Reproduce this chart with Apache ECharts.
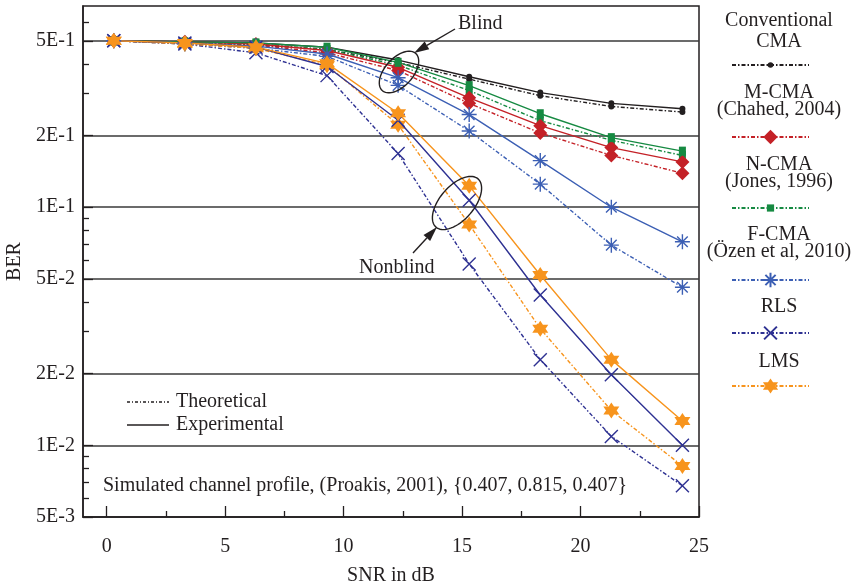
<!DOCTYPE html>
<html><head><meta charset="utf-8">
<script src="https://cdn.jsdelivr.net/npm/echarts@6/dist/echarts.min.js"></script>
<style>html,body{margin:0;padding:0;background:#fff}#c{width:861px;height:584px}</style>
</head><body><div id="c"></div>
<script>
// ---- data ----
const snr = [0.3, 3.3, 6.3, 9.3, 12.3, 15.3, 18.3, 21.3, 24.3];

const cmaTheo  = [0.50, 0.49, 0.48, 0.46, 0.405, 0.345, 0.294, 0.265, 0.251];
const cmaExp   = [0.50, 0.495, 0.49, 0.47, 0.415, 0.353, 0.303, 0.273, 0.259];
const mcmaTheo = [0.50, 0.49, 0.48, 0.445, 0.375, 0.273, 0.205, 0.165, 0.139];
const mcmaExp  = [0.50, 0.495, 0.485, 0.455, 0.387, 0.288, 0.220, 0.178, 0.155];
const ncmaTheo = [0.50, 0.49, 0.485, 0.46, 0.395, 0.309, 0.231, 0.191, 0.165];
const ncmaExp  = [0.50, 0.495, 0.49, 0.47, 0.406, 0.324, 0.247, 0.196, 0.172];
const fcmaTheo = [0.50, 0.485, 0.465, 0.43, 0.325, 0.209, 0.125, 0.0693, 0.0461];
const fcmaExp  = [0.50, 0.49, 0.475, 0.44, 0.350, 0.245, 0.157, 0.100, 0.0716];
const rlsTheo  = [0.50, 0.485, 0.445, 0.357, 0.168, 0.0578, 0.0229, 0.0109, 0.00676];
const rlsExp   = [0.50, 0.49, 0.47, 0.39, 0.232, 0.107, 0.0428, 0.0198, 0.0100];
const lmsTheo  = [0.50, 0.485, 0.465, 0.395, 0.222, 0.0847, 0.0309, 0.0140, 0.00819];
const lmsExp   = [0.50, 0.49, 0.47, 0.402, 0.248, 0.123, 0.0519, 0.0229, 0.01265];

const xTickValues = [0, 5, 10, 15, 20, 25];
const xMinorTicks = [2.5, 7.5, 12.5, 17.5, 22.5];
const yTickValues = [0.005, 0.01, 0.02, 0.05, 0.1, 0.2, 0.5];
const yTickLabels = ['5E-3', '1E-2', '2E-2', '5E-2', '1E-1', '2E-1', '5E-1'];
const yMinorTicks = [0.006, 0.007, 0.008, 0.009, 0.03, 0.04, 0.06, 0.07, 0.08, 0.09, 0.3, 0.4, 0.6];

const legendTitles = [
  ['Conventional', 'CMA'],
  ['M-CMA', '(Chahed, 2004)'],
  ['N-CMA', '(Jones, 1996)'],
  ['F-CMA', '(Özen et al, 2010)'],
  ['RLS'],
  ['LMS']
];
const methodNames = ['Conventional CMA', 'M-CMA', 'N-CMA', 'F-CMA', 'RLS', 'LMS'];

// ---- styles ----
const FONT = '"Liberation Serif", "Times New Roman", serif';
const TXT = '#231f20';
const ASTER = 'path://M0,-10L0,10M-10,0L10,0M-7.1,-7.1L7.1,7.1M-7.1,7.1L7.1,-7.1';
const CROSS = 'path://M-10,-10L10,10M-10,10L10,-10';
const STAR6 = 'path://M0,-10L8.66,5L-8.66,5ZM0,10L-8.66,-5L8.66,-5Z';
const DOT = [4, 2, 1.5, 2];

const methods = [
  {theo: cmaTheo,  exp: cmaExp,  color: '#231f20', symbol: 'circle',  size: 6,      legendH: 7,  stroke: false},
  {theo: mcmaTheo, exp: mcmaExp, color: '#c42127', symbol: 'diamond', size: 14,     legendH: 18, stroke: false},
  {theo: ncmaTheo, exp: ncmaExp, color: '#168a42', symbol: 'rect',    size: [7, 9], legendH: 9,  stroke: false},
  {theo: fcmaTheo, exp: fcmaExp, color: '#3c5fb4', symbol: ASTER,     size: 15,     legendH: 18, stroke: true},
  {theo: rlsTheo,  exp: rlsExp,  color: '#2e3192', symbol: CROSS,     size: 13,     legendH: 16, stroke: true},
  {theo: lmsTheo,  exp: lmsExp,  color: '#f7941d', symbol: STAR6,     size: 16,     legendH: 19, stroke: false}
];

const series = [];
methods.forEach((m, i) => {
  const itemStyle = m.stroke
    ? {color: m.color, borderColor: m.color, borderWidth: 1.4}
    : {color: m.color, borderWidth: 0};
  series.push({
    name: methodNames[i], type: 'line', xAxisIndex: 0, yAxisIndex: 0,
    data: snr.map((x, k) => [x, m.theo[k]]),
    symbol: m.symbol, symbolSize: m.size, showSymbol: true,
    lineStyle: {color: m.color, width: 1.4, type: DOT},
    itemStyle: itemStyle, z: 3
  });
  series.push({
    name: methodNames[i] + ' (experimental)', type: 'line', xAxisIndex: 0, yAxisIndex: 0,
    data: snr.map((x, k) => [x, m.exp[k]]),
    symbol: m.symbol, symbolSize: m.size, showSymbol: true,
    lineStyle: {color: m.color, width: 1.4, type: 'solid'},
    itemStyle: itemStyle, z: 4
  });
});

// legend components (one per method)
const legendSampleY = [65, 137, 208, 280, 333, 386];
const legends = methodNames.map((n, i) => ({
  data: [n], left: 731, top: legendSampleY[i] - methods[i].legendH / 2,
  itemWidth: 77, itemHeight: methods[i].legendH,
  padding: 0, itemGap: 0, selectedMode: false, formatter: () => '',
  textStyle: {fontSize: 1}
}));

// graphic helpers
function ellipse(cx, cy, a, b, deg) {
  const t = deg * Math.PI / 180, pts = [];
  for (let k = 0; k < 72; k++) {
    const p = k / 72 * Math.PI * 2;
    const ex = a * Math.cos(p), ey = b * Math.sin(p);
    pts.push([cx + ex * Math.cos(t) + ey * Math.sin(t), cy - ex * Math.sin(t) + ey * Math.cos(t)]);
  }
  return {type: 'polygon', shape: {points: pts}, style: {fill: 'none', stroke: '#231f20', lineWidth: 1.4}, z: 20};
}
function arrow(tail, tip) {
  const dx = tip[0] - tail[0], dy = tip[1] - tail[1], L = Math.hypot(dx, dy);
  const ux = dx / L, uy = dy / L, hl = 15, hw = 4.5;
  const bx = tip[0] - ux * hl, by = tip[1] - uy * hl;
  return [
    {type: 'line', shape: {x1: tail[0], y1: tail[1], x2: bx, y2: by}, style: {stroke: '#231f20', lineWidth: 1.4}, z: 20},
    {type: 'polygon', shape: {points: [tip, [bx - uy * hw, by + ux * hw], [bx + uy * hw, by - ux * hw]]}, style: {fill: '#231f20'}, z: 20}
  ];
}
function label(text, x, y, align) {
  return {type: 'text', x: x, y: y, z: 20, style: {text: text, font: '20px ' + FONT, fill: TXT, align: align || 'left', verticalAlign: 'middle'}};
}

const legendTextY = [[21, 42], [93, 110], [165, 182], [235, 252], [307], [362]];
const graphics = [];
legendTitles.forEach((lines, i) => lines.forEach((t, j) => graphics.push(label(t, 779, legendTextY[i][j], 'center'))));
graphics.push(ellipse(399, 72, 25, 14, 48));
graphics.push(ellipse(457, 203, 32, 17, 49));
graphics.push(...arrow([455, 29], [414, 53]));
graphics.push(...arrow([413, 253], [437, 227]));
graphics.push(label('Blind', 458, 24));
graphics.push(label('Nonblind', 359, 268));
graphics.push({type: 'line', shape: {x1: 127, y1: 402, x2: 169, y2: 402}, style: {stroke: '#231f20', lineWidth: 1.3, lineDash: [3, 2, 1, 2]}, z: 20});
graphics.push({type: 'line', shape: {x1: 127, y1: 425, x2: 169, y2: 425}, style: {stroke: '#231f20', lineWidth: 1.3}, z: 20});
graphics.push(label('Theoretical', 176, 402));
graphics.push(label('Experimental', 176, 425));
graphics.push(label('Simulated channel profile, (Proakis, 2001), {0.407, 0.815, 0.407}', 103, 486));

const axisFont = {fontFamily: FONT, fontSize: 20, color: TXT};

const option = {
  animation: false,
  backgroundColor: '#fff',
  grid: {left: 83, right: 162, top: 6, bottom: 67, show: true, borderColor: '#231f20', borderWidth: 1.5,
         containLabel: false, outerBoundsMode: 'none'},
  xAxis: [
    {type: 'value', min: -1, max: 25, position: 'bottom',
     name: 'SNR in dB', nameLocation: 'middle', nameGap: 49, nameTextStyle: axisFont,
     axisLine: {show: true, onZero: false, lineStyle: {color: '#231f20', width: 1.5}},
     axisTick: {show: true, inside: true, length: 11, customValues: xTickValues, lineStyle: {color: '#231f20', width: 1.3}},
     axisLabel: Object.assign({customValues: xTickValues, margin: 20}, axisFont),
     splitLine: {show: false}},
    {type: 'value', min: -1, max: 25, position: 'bottom',
     axisLine: {show: false, onZero: false}, axisLabel: {show: false}, splitLine: {show: false},
     axisTick: {show: true, inside: true, length: 6, customValues: xMinorTicks, lineStyle: {color: '#231f20', width: 1.3}}}
  ],
  yAxis: [
    {type: 'log', logBase: 10, min: 0.005, max: 0.7, position: 'left',
     name: 'BER', nameLocation: 'middle', nameGap: 52, nameRotate: 90, nameTextStyle: axisFont,
     axisLine: {show: true, onZero: false, lineStyle: {color: '#231f20', width: 1.5}},
     axisTick: {show: true, inside: true, length: 10, customValues: yTickValues, lineStyle: {color: '#231f20', width: 1.3}},
     axisLabel: Object.assign({customValues: yTickValues, margin: 8, formatter: v => {
       const i = yTickValues.findIndex(t => Math.abs(t - v) / t < 1e-4); return i >= 0 ? yTickLabels[i] : ''; }}, axisFont),
     splitLine: {show: true, lineStyle: {color: '#3a3a3a', width: 1.5}},
     minorSplitLine: {show: false}},
    {type: 'log', logBase: 10, min: 0.005, max: 0.7, position: 'left',
     axisLine: {show: false, onZero: false}, axisLabel: {show: false}, splitLine: {show: false},
     axisTick: {show: true, inside: true, length: 6, customValues: yMinorTicks, lineStyle: {color: '#231f20', width: 1.3}}}
  ],
  legend: legends,
  series: series,
  graphic: graphics
};

const chart = echarts.init(document.getElementById('c'), null, {renderer: 'canvas'});
chart.setOption(option);
</script></body></html>
